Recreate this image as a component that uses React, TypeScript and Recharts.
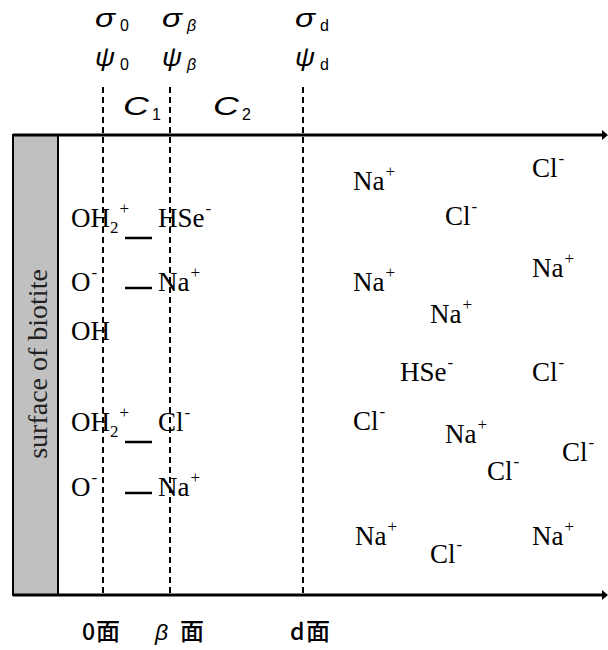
import React from 'react';
import { ScatterChart, Scatter, XAxis, YAxis, ReferenceArea, ReferenceLine } from 'recharts';

const W = 608;
const H = 650;

// Planes (0, β, d) and their horizontal positions
const planeNames = ['0', 'β', 'd'];
const planeX = [103, 170, 303];
const planeTopY = 87;

// Frame
const axisTopY = 135;
const axisBottomY = 595;
const axisLeftX = 13;
const axisRightX = 602;
const surfaceRightX = 58;

// Top labels σ / ψ
const sigmaRowY = 27;
const psiRowY = 66;
const topLabels = planeNames.flatMap((n, i) => [
  { x: planeX[i], y: sigmaRowY, main: 'σ', sub: n },
  { x: planeX[i], y: psiRowY, main: 'ψ', sub: n },
]);

// Capacitance labels
const capLabels = [
  { x: 123, y: 115, main: 'C', sub: '1' },
  { x: 213, y: 115, main: 'C', sub: '2' },
];

// Bottom plane labels
const bottomLabels = [
  { x: 82, y: 640, prefix: '0', kanjiX: 96, italic: false },
  { x: 155, y: 640, prefix: 'β', kanjiX: 180, italic: true },
  { x: 290, y: 640, prefix: 'd', kanjiX: 306, italic: false },
];

// Surface species and their counter ions
const rowY = [227, 291, 340, 431, 496];
const surfaceX = 71;
const counterX = 158;
const surfaceSpecies = [
  { base: 'OH', sub: '2', sup: '+' },
  { base: 'O', sub: '', sup: '-' },
  { base: 'OH', sub: '', sup: '' },
  { base: 'OH', sub: '2', sup: '+' },
  { base: 'O', sub: '', sup: '-' },
];
const counterIons = [
  { base: 'HSe', sub: '', sup: '-' },
  { base: 'Na', sub: '', sup: '+' },
  null,
  { base: 'Cl', sub: '', sup: '-' },
  { base: 'Na', sub: '', sup: '+' },
];
const pairDashY = [238, 288, null, 442, 493];
const pairDashX = [125, 152];

// Bulk solution ions
const bulkIons = [
  { base: 'Na', sup: '+', x: 353, y: 190 },
  { base: 'Cl', sup: '-', x: 532, y: 177 },
  { base: 'Cl', sup: '-', x: 445, y: 225 },
  { base: 'Na', sup: '+', x: 532, y: 277 },
  { base: 'Na', sup: '+', x: 353, y: 291 },
  { base: 'Na', sup: '+', x: 430, y: 323 },
  { base: 'HSe', sup: '-', x: 400, y: 381 },
  { base: 'Cl', sup: '-', x: 532, y: 381 },
  { base: 'Cl', sup: '-', x: 353, y: 430 },
  { base: 'Na', sup: '+', x: 445, y: 443 },
  { base: 'Cl', sup: '-', x: 562, y: 461 },
  { base: 'Cl', sup: '-', x: 487, y: 480 },
  { base: 'Na', sup: '+', x: 355, y: 545 },
  { base: 'Cl', sup: '-', x: 430, y: 563 },
  { base: 'Na', sup: '+', x: 532, y: 545 },
];

const surfaceLabel = [{ x: 47, y: 364, text: 'surface of biotite' }];
const arrowPoints = [
  { x: axisRightX, y: axisTopY },
  { x: axisRightX, y: axisBottomY },
];

const ionData = [
  ...surfaceSpecies.map((s, i) => ({ ...s, x: surfaceX, y: rowY[i] })),
  ...counterIons
    .map((c, i) => (c ? { ...c, x: counterX, y: rowY[i] } : null))
    .filter(Boolean),
  ...bulkIons.map((b) => ({ ...b, sub: '' })),
];

const SERIF = "'Liberation Serif','Times New Roman',serif";
const SANS = "'Liberation Sans','Noto Sans CJK JP',sans-serif";
const CJK = "'Noto Sans CJK JP','Noto Sans CJK SC',sans-serif";

const IonShape = (props: any) => {
  const { cx, cy, payload } = props;
  return (
    <text x={cx} y={cy} fontFamily={SERIF} fontSize={27} fill="#000">
      {payload.base}
      {payload.sub ? (
        <tspan fontSize={17} dy={6}>
          {payload.sub}
        </tspan>
      ) : null}
      {payload.sup ? (
        <tspan fontSize={17} dx={1} dy={payload.sub ? -19 : -13}>
          {payload.sup}
        </tspan>
      ) : null}
    </text>
  );
};

const TopLabelShape = (props: any) => {
  const { cx, cy, payload } = props;
  return (
    <g>
      <text
        x={cx - 8}
        y={cy}
        fontFamily={SANS}
        fontStyle="italic"
        fontSize={26}
        textLength={20}
        lengthAdjust="spacingAndGlyphs"
        fill="#000"
      >
        {payload.main}
      </text>
      <text
        x={cx + 17}
        y={cy + 4}
        fontFamily={SANS}
        fontStyle={payload.sub === 'β' ? 'italic' : 'normal'}
        fontSize={16}
        fill="#000"
      >
        {payload.sub}
      </text>
    </g>
  );
};

const CapShape = (props: any) => {
  const { cx, cy, payload } = props;
  return (
    <g>
      <text
        x={cx}
        y={cy}
        fontFamily={SANS}
        fontStyle="italic"
        fontSize={25}
        textLength={26}
        lengthAdjust="spacingAndGlyphs"
        fill="#000"
      >
        {payload.main}
      </text>
      <text x={cx + 29} y={cy + 5} fontFamily={SANS} fontSize={16} fill="#000">
        {payload.sub}
      </text>
    </g>
  );
};

const BottomShape = (props: any) => {
  const { cx, cy, payload } = props;
  return (
    <g>
      <text
        x={cx}
        y={cy}
        fontFamily={payload.italic ? SANS : CJK}
        fontStyle={payload.italic ? 'italic' : 'normal'}
        fontWeight={500}
        fontSize={23}
        fill="#000"
      >
        {payload.prefix}
      </text>
      <text x={payload.kanjiX} y={cy} fontFamily={CJK} fontWeight={500} fontSize={24} fill="#000">
        面
      </text>
    </g>
  );
};

const SurfaceLabelShape = (props: any) => {
  const { cx, cy, payload } = props;
  return (
    <text
      x={cx}
      y={cy}
      textAnchor="middle"
      transform={`rotate(-90, ${cx}, ${cy})`}
      fontFamily={SERIF}
      fontSize={28}
      fill="#222"
    >
      {payload.text}
    </text>
  );
};

const ArrowShape = (props: any) => {
  const { cx, cy } = props;
  return <polygon points={`${cx},${cy - 5} ${cx + 6},${cy} ${cx},${cy + 5}`} fill="#000" />;
};

export default function App() {
  return (
    <div style={{ position: 'absolute', left: 0, top: 0, background: '#fff' }}>
      <ScatterChart width={W} height={H} margin={{ top: 0, right: 0, bottom: 0, left: 0 }}>
        <XAxis type="number" dataKey="x" domain={[0, W]} hide allowDataOverflow />
        <YAxis type="number" dataKey="y" domain={[0, H]} reversed hide allowDataOverflow />
        <ReferenceArea
          x1={axisLeftX}
          x2={surfaceRightX}
          y1={axisTopY}
          y2={axisBottomY}
          fill="#c0c0c0"
          fillOpacity={1}
          stroke="#000"
          strokeWidth={2}
        />
        {planeX.map((x) => (
          <ReferenceLine
            key={`p${x}`}
            segment={[
              { x, y: planeTopY },
              { x, y: axisBottomY },
            ]}
            stroke="#000"
            strokeWidth={2}
            strokeDasharray="6 4"
          />
        ))}
        <ReferenceLine
          segment={[
            { x: axisLeftX, y: axisTopY },
            { x: axisRightX, y: axisTopY },
          ]}
          stroke="#000"
          strokeWidth={3}
        />
        <ReferenceLine
          segment={[
            { x: axisLeftX, y: axisBottomY },
            { x: axisRightX, y: axisBottomY },
          ]}
          stroke="#000"
          strokeWidth={3}
        />
        {pairDashY.map((y, i) =>
          y == null ? null : (
            <ReferenceLine
              key={`d${i}`}
              segment={[
                { x: pairDashX[0], y },
                { x: pairDashX[1], y },
              ]}
              stroke="#000"
              strokeWidth={2.5}
            />
          )
        )}
        <Scatter data={arrowPoints} shape={ArrowShape} isAnimationActive={false} />
        <Scatter data={surfaceLabel} shape={SurfaceLabelShape} isAnimationActive={false} />
        <Scatter data={ionData} shape={IonShape} isAnimationActive={false} />
        <Scatter data={topLabels} shape={TopLabelShape} isAnimationActive={false} />
        <Scatter data={capLabels} shape={CapShape} isAnimationActive={false} />
        <Scatter data={bottomLabels} shape={BottomShape} isAnimationActive={false} />
      </ScatterChart>
    </div>
  );
}
